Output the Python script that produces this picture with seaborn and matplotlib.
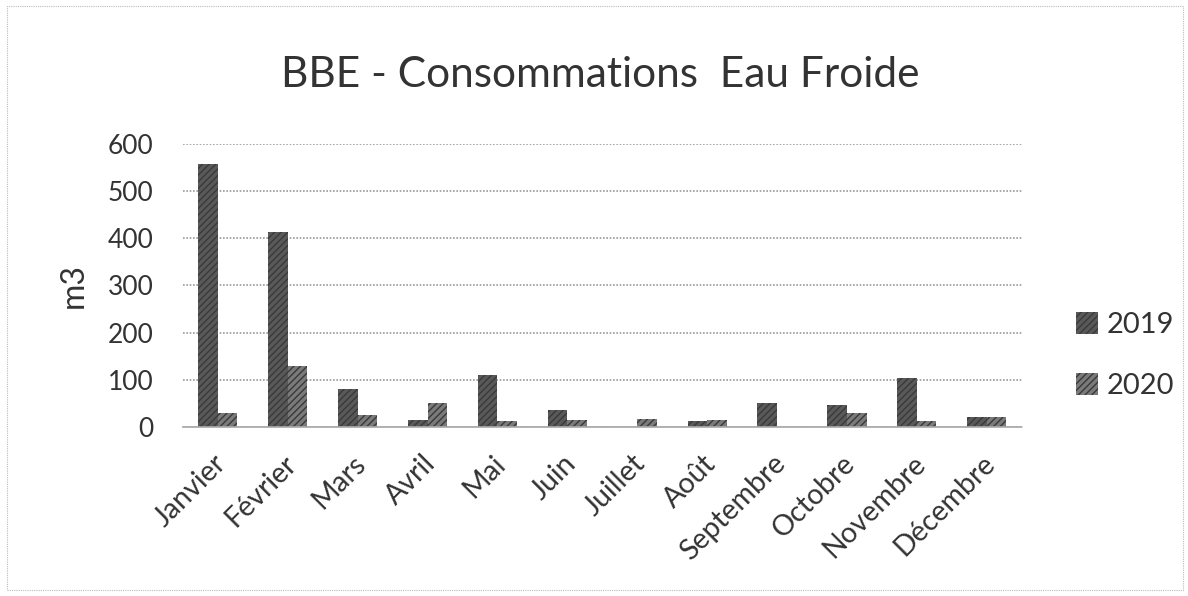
import matplotlib
matplotlib.use("Agg")
import matplotlib.pyplot as plt
import matplotlib.transforms as mtransforms
import seaborn as sns
import pandas as pd
from matplotlib.patches import Patch

months = ["Janvier", "Février", "Mars", "Avril", "Mai", "Juin", "Juillet",
          "Août", "Septembre", "Octobre", "Novembre", "Décembre"]
values_2019 = [557, 413, 80, 15, 110, 35, 0, 12, 50, 47, 103, 20]
values_2020 = [30, 129, 25, 51, 12, 15, 17, 15, 0, 30, 12, 20]
years = ["2019", "2020"]
y_ticks = [0, 100, 200, 300, 400, 500, 600]

df = pd.DataFrame({
    "Mois": months * 2,
    "m3": values_2019 + values_2020,
    "Année": [years[0]] * len(months) + [years[1]] * len(months),
})

sns.set_theme(style="white")
plt.rcParams["font.family"] = ["Lato", "DejaVu Sans"]

fig = plt.figure(figsize=(11.88, 5.96), dpi=100)
ax = fig.add_axes([0.154, 0.284, 0.706, 0.474])

palette = {"2019": "#595959", "2020": "#7a7a7a"}
sns.barplot(data=df, x="Mois", y="m3", hue="Année", palette=palette,
            width=0.56, ax=ax, legend=False, saturation=1)
for p in ax.patches:
    p.set_hatch("/////")
    p.set_edgecolor("#3a3a3a")
    p.set_linewidth(0)

ax.set_ylim(0, 600)
ax.set_yticks(y_ticks)
ax.set_yticklabels([str(t) for t in y_ticks], fontsize=19, color="#333333")
ax.set_xlim(-0.5, len(months) - 0.5)
ax.set_xticks(range(len(months)))
ax.set_xticklabels(months, rotation=45, ha="right", rotation_mode="anchor",
                   fontsize=20.5, color="#333333")
ax.tick_params(axis="y", length=0, pad=21)
ax.tick_params(axis="x", length=0, pad=17)
shift = mtransforms.ScaledTranslation(-5 / 100, 0, fig.dpi_scale_trans)
for lbl in ax.get_xticklabels():
    lbl.set_transform(lbl.get_transform() + shift)
ax.yaxis.grid(True, linestyle=(0, (1, 1)), color="#999999", linewidth=1.2)
ax.set_axisbelow(True)
for s in ["top", "right", "left"]:
    ax.spines[s].set_visible(False)
ax.spines["bottom"].set_color("#aaaaaa")
ax.spines["bottom"].set_linestyle((0, (1, 1)))
ax.set_xlabel("")
ax.set_ylabel("m3", fontsize=23, color="#333333", labelpad=14)

fig.text(0.505, 1 - 87 / 596, "BBE - Consommations  Eau Froide", fontsize=30.5,
         color="#333333", ha="center", va="baseline")

handles = [Patch(facecolor=palette[y], hatch="/////", edgecolor="#3a3a3a", linewidth=0) for y in years]
fig.legend(handles, years, loc="center left", bbox_to_anchor=(0.906, 0.403),
           frameon=False, fontsize=21, labelspacing=1.2, handlelength=0.75,
           handleheight=0.75, handletextpad=0.3, labelcolor="#333333",
           borderaxespad=0, borderpad=0)

border = plt.Rectangle((0.006, 0.01), 0.99, 0.98, transform=fig.transFigure,
                       fill=False, edgecolor="#bbbbbb", linestyle=(0, (1, 1)), linewidth=0.8)
fig.patches.append(border)

fig.savefig("out.png", dpi=100)
